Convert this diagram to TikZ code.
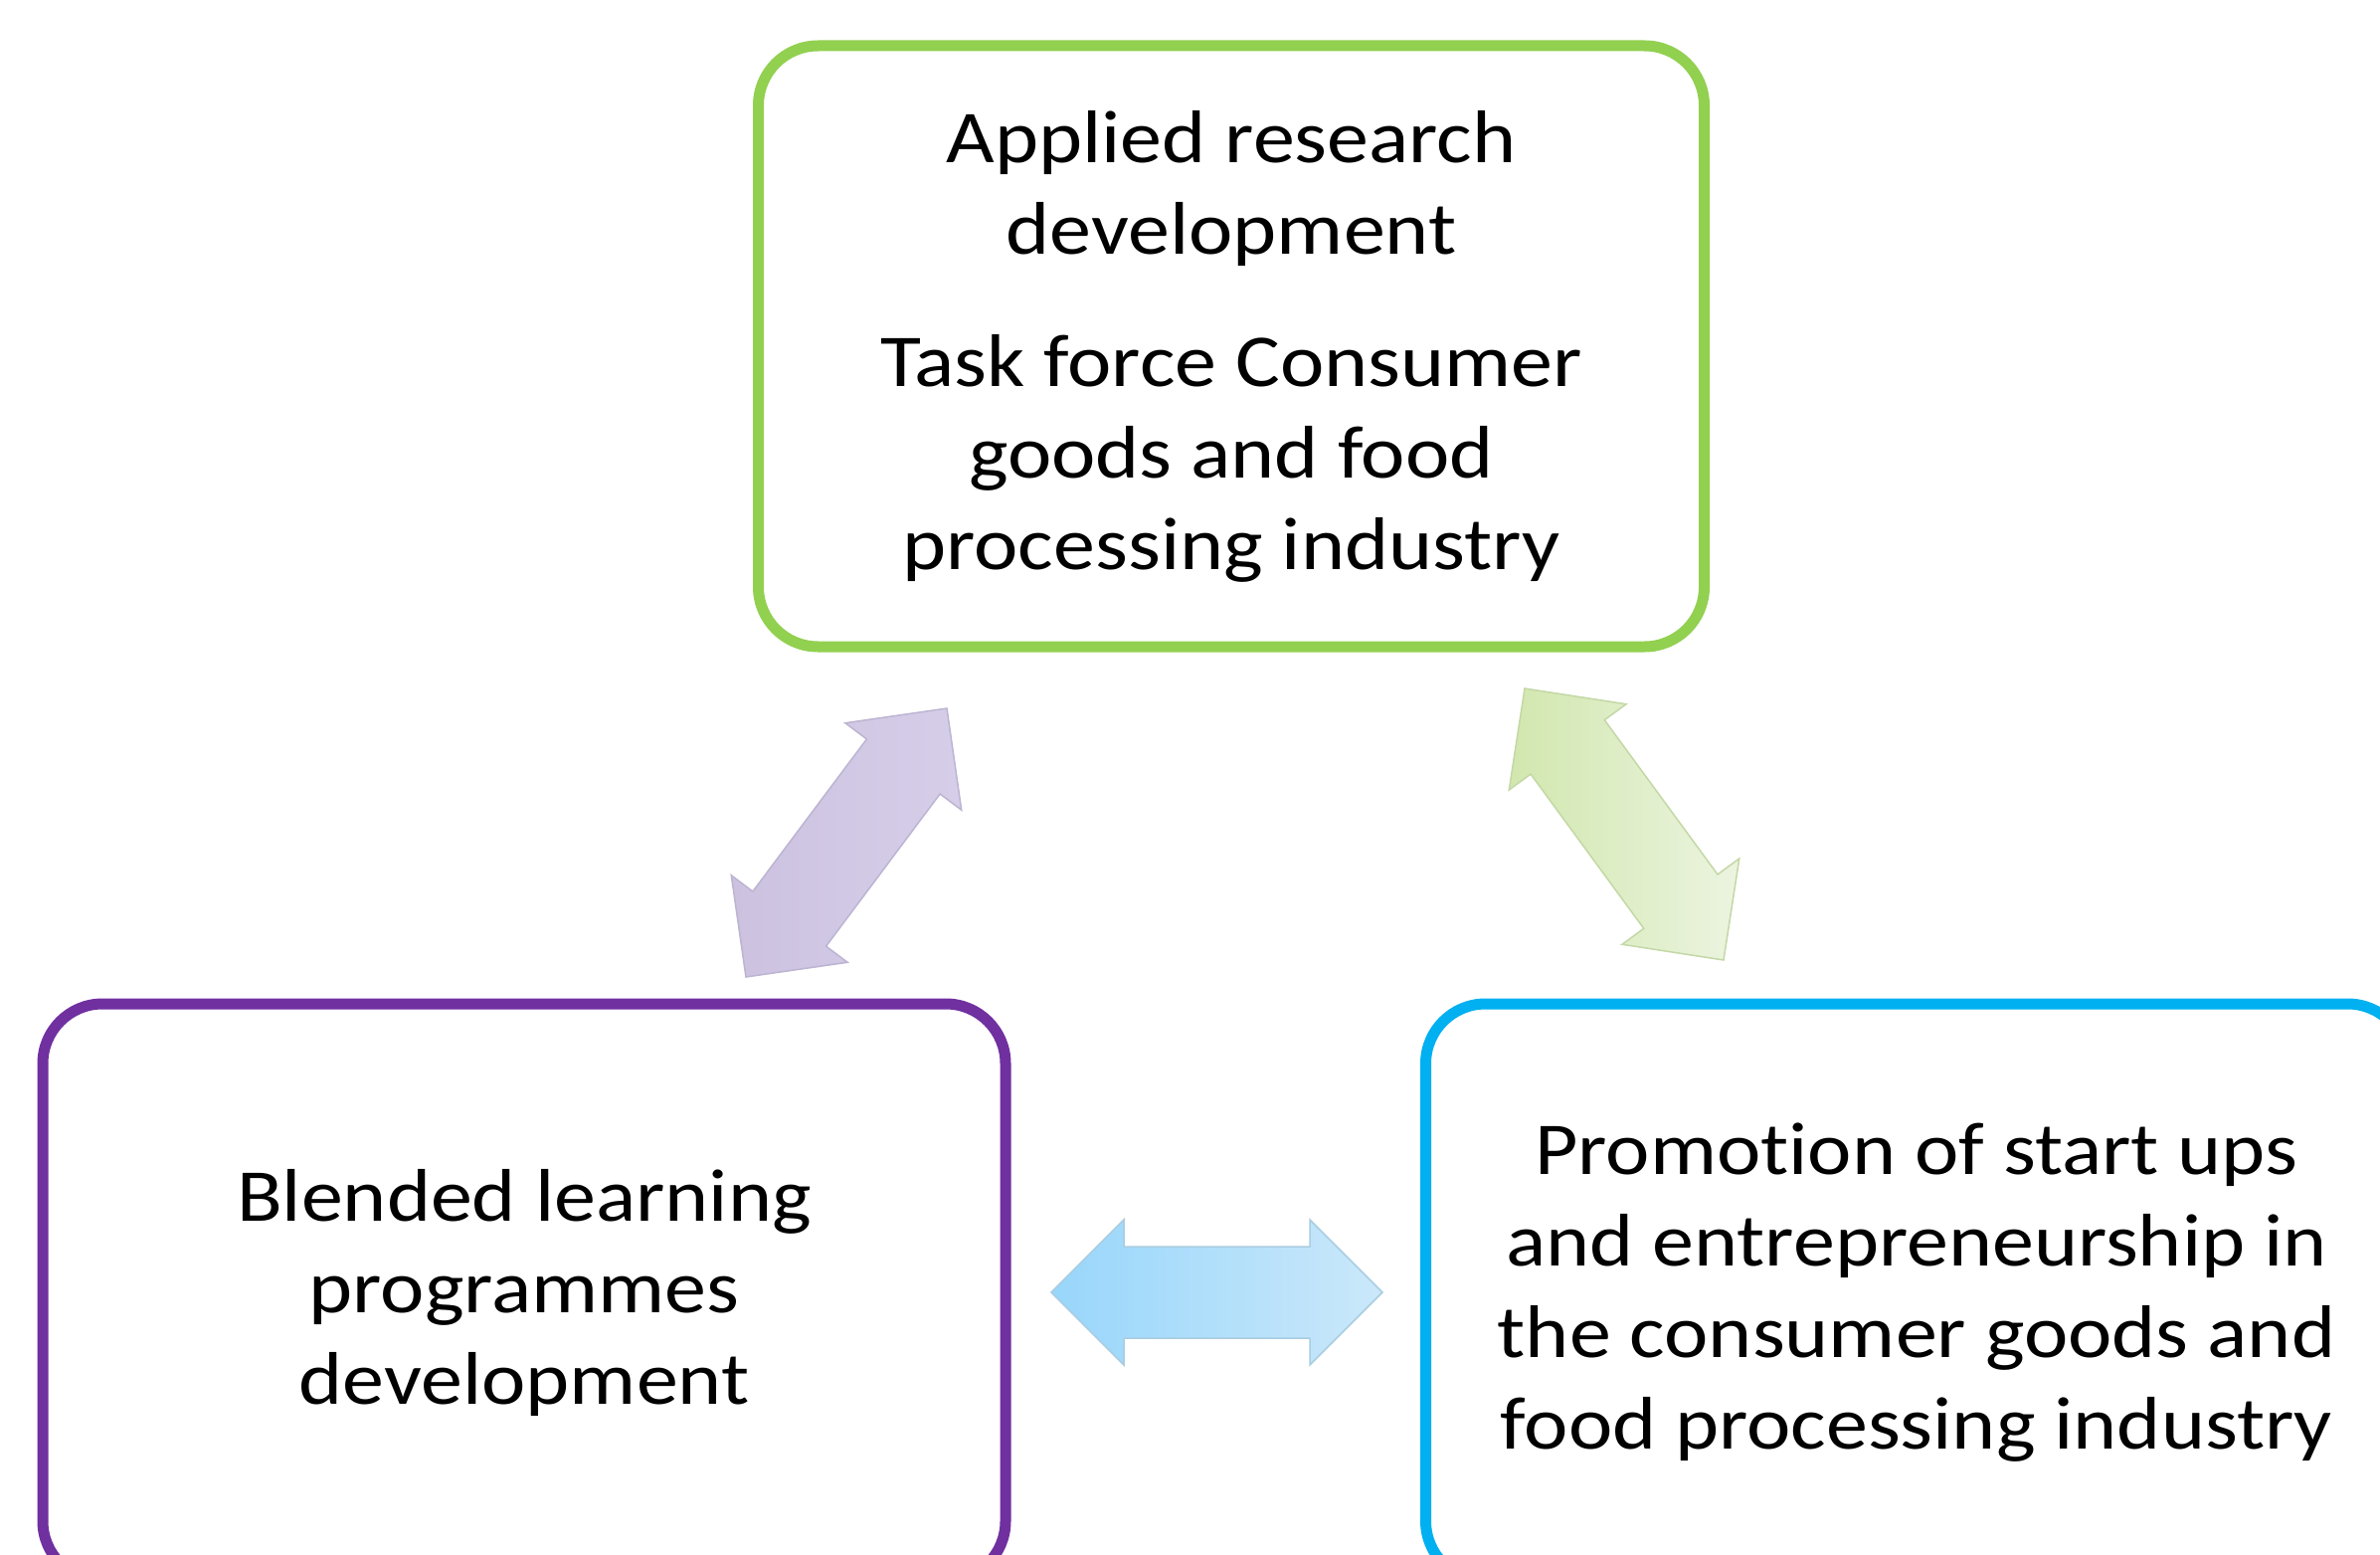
\documentclass[tikz,border=0pt]{standalone}
\usepackage{fontspec}
\setmainfont{Carlito}[FakeStretch=1.12, Ligatures=NoCommon]
\usetikzlibrary{calc}

\definecolor{boxgreen}{HTML}{92D050}
\definecolor{boxpurple}{HTML}{7030A0}
\definecolor{boxblue}{HTML}{00B0F0}
\definecolor{lavA}{HTML}{CCC2E0}
\definecolor{lavB}{HTML}{D6CEE9}
\definecolor{lavEdge}{HTML}{BDB4D2}
\definecolor{limeA}{HTML}{D1E7AE}
\definecolor{limeB}{HTML}{ECF4E0}
\definecolor{limeEdge}{HTML}{C4D8A6}
\definecolor{skyA}{HTML}{98D6FB}
\definecolor{skyB}{HTML}{CBE8FA}
\definecolor{skyEdge}{HTML}{A9CDE2}

\tikzset{
  panel/.style={draw, line width=11pt, rounded corners=60pt, fill=white,
    align=center, inner sep=0pt, text=black,
    font=\fontsize{75}{92}\selectfont},
  purplearrow/.style={left color=lavA, right color=lavB, draw=lavEdge, line width=1.5pt},
  greenarrow/.style={left color=limeA, right color=limeB, draw=limeEdge, line width=1.5pt},
  bluearrow/.style={left color=skyA, right color=skyB, draw=skyEdge, line width=1.5pt},
}

% double-headed block arrow between two named coordinates
\newcommand\blockarrow[3]{%
  \coordinate (#1-h1) at ($(#1)!73pt!(#2)$);
  \coordinate (#1-h2) at ($(#2)!73pt!(#1)$);
  \shade[#3] (#1)
    -- ($(#1-h1)!73pt!90:(#2)$) -- ($(#1-h1)!46pt!90:(#2)$)
    -- ($(#1-h2)!46pt!-90:(#1)$) -- ($(#1-h2)!73pt!-90:(#1)$)
    -- (#2)
    -- ($(#1-h2)!73pt!90:(#1)$) -- ($(#1-h2)!46pt!90:(#1)$)
    -- ($(#1-h1)!46pt!-90:(#2)$) -- ($(#1-h1)!73pt!-90:(#2)$)
    -- cycle;
}

\begin{document}
\begin{tikzpicture}[x=1pt, y=-1pt]
  \useasboundingbox (0,0) rectangle (2393,1563);
  \clip (0,0) rectangle (2393,1563);
  \fill[white] (0,0) rectangle (2393,1563);

  % the three activity boxes
  \node[panel, draw=boxgreen, minimum width=951pt, minimum height=604pt]
    (research) at (1238,348)
    {Applied research\\development\\[41pt]Task force Consumer\\goods and food\\processing industry};
  \node[panel, draw=boxpurple, minimum width=968pt, minimum height=580pt]
    (learning) at (527,1299)
    {Blended learning\\programmes\\development};
  \node[panel, draw=boxblue, minimum width=987pt, minimum height=580pt]
    (startups) at (1927,1299)
    {Promotion of start ups\\and entrepreneurship in\\the consumer goods and\\food processing industry};

  % arrow end points
  \coordinate (pl) at (750,982);
  \coordinate (pr) at (952,712);
  \coordinate (gl) at (1533,692);
  \coordinate (gr) at (1733,965);
  \coordinate (bl) at (1057,1299);
  \coordinate (br) at (1390,1299);

  % two-way links between the boxes
  \blockarrow{pl}{pr}{purplearrow}
  \blockarrow{gl}{gr}{greenarrow}
  \blockarrow{bl}{br}{bluearrow}
\end{tikzpicture}
\end{document}
